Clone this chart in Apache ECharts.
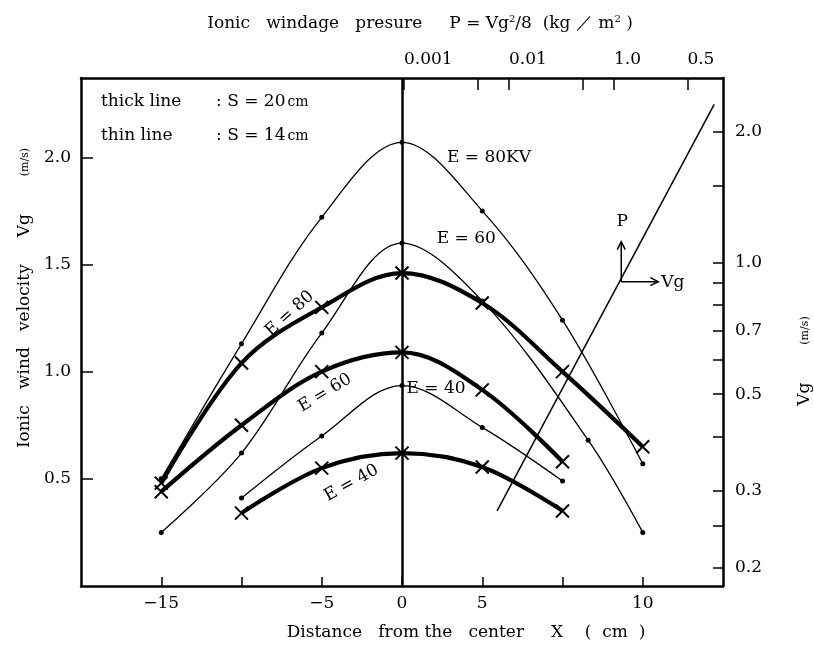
<!DOCTYPE html>
<html>
<head>
<meta charset="utf-8">
<script src="https://cdn.jsdelivr.net/npm/echarts@6/dist/echarts.min.js"></script>
<style>
  html, body { margin: 0; padding: 0; background: #fff; }
  #chart { width: 814px; height: 646px; }
</style>
</head>
<body>
<div id="chart"></div>
<script>
// x positions of the measuring points (cm along the axis)
const xPos = [-15, -10, -5, 0, 5, 10, 15]

// thick line : S = 20cm  (x marks)
const thick80 = [0.48, 1.04, 1.30, 1.46, 1.32, 1.00, 0.65]
const thick60 = [0.44, 0.75, 1.00, 1.09, 0.915, 0.58, null]
const thick40 = [null, 0.34, 0.55, 0.62, 0.555, 0.35, null]

// thin line : S = 14cm  (dots)
const thin80 = [0.50, 1.13, 1.72, 2.07, 1.75, 1.24, 0.57]
const thin60X = [-15, -10, -5, 0, 5, 11.6, 15]
const thin60 = [0.25, 0.62, 1.18, 1.60, 1.33, 0.68, 0.25]
const thin40 = [null, 0.41, 0.70, 0.935, 0.74, 0.49, null]

// P - Vg reference line (top axis P, right axis Vg)
const pvLineP = [0.0077, 0.90]
const pvLineVg = [0.27, 2.31]

// axis ticks and labels
const xTicks = [-15, -10, -5, 0, 5, 10, 15]
const xLabelPos = [-15, -5, 0, 5, 15]
const xLabelText = ['−15', '−5', '0', '5', '10']
const yTicks = [0.5, 1.0, 1.5, 2.0]
const vgTicks = [0.2, 0.25, 0.3, 0.4, 0.5, 0.6, 0.7, 0.8, 0.9, 1.0, 1.5, 2.0]
const vgLabels = [0.2, 0.3, 0.5, 0.7, 1.0, 2.0]
const pTicks = [0.001, 0.005, 0.01, 0.05, 0.1, 0.5]
const pLabelPos = [0.001, 0.01, 0.1, 0.5]
const pLabelText = ['0.001', '0.01', '1.0', '0.5']

const FONT = 'DejaVu Serif'
const FS = 17
const lg = v => Math.log10(v)
const xMark = 'path://M0 0L10 10M10 0L0 10'

function pairs (xs, ys) {
  return xs.map((x, i) => [x, ys[i]]).filter(p => p[1] != null)
}
function pick (pos, text, v) {
  let i = pos.findIndex(p => Math.abs(p - v) < 1e-6)
  return i < 0 ? '' : text[i]
}

let axisLine = { show: true, onZero: false, lineStyle: { color: '#000', width: 2.5 } }
let labelStyle = { color: '#000', fontFamily: FONT, fontSize: FS }

function thick (name, ys) {
  return {
    name: name, type: 'line', data: pairs(xPos, ys), smooth: 0.35,
    symbol: xMark, symbolSize: 13,
    lineStyle: { color: '#000', width: 4.2 },
    itemStyle: { color: '#000', borderColor: '#000', borderWidth: 2 },
    z: 3
  }
}
function thin (name, xs, ys) {
  return {
    name: name, type: 'line', data: pairs(xs, ys), smooth: 0.35,
    symbol: 'circle', symbolSize: 5,
    lineStyle: { color: '#000', width: 1.3 },
    itemStyle: { color: '#000' },
    z: 2
  }
}

let option = {
  animation: false,
  backgroundColor: '#fff',
  grid: { left: 81, right: 91, top: 78, bottom: 60, outerBoundsMode: 'none' },
  title: {
    text: 'Ionic   windage   presure     P = Vg{sup|2}/8  (kg ／ m{sup|2} )',
    left: 415, top: 9, textAlign: 'center',
    textStyle: {
      color: '#000', fontFamily: FONT, fontSize: FS, fontWeight: 'normal',
      rich: { sup: { fontSize: 10, verticalAlign: 'top', padding: [0, 0, 10, 0], fontFamily: FONT } }
    }
  },
  xAxis: [{
    type: 'value', position: 'bottom', min: -20, max: 20,
    axisLine: axisLine,
    axisTick: { inside: true, length: 9, customValues: xTicks, lineStyle: { color: '#000', width: 1.5 } },
    axisLabel: Object.assign({ margin: 9, customValues: xLabelPos,
      formatter: v => pick(xLabelPos, xLabelText, v) }, labelStyle),
    splitLine: { show: false },
    name: 'Distance   from the   center     X    (  cm  )',
    nameLocation: 'middle', nameGap: 38,
    nameTextStyle: { color: '#000', fontFamily: FONT, fontSize: FS, padding: [0, 0, 0, 128] }
  }, {
    type: 'value', position: 'top', min: -6.076, max: 0.038,
    axisLine: axisLine,
    axisTick: { inside: true, length: 12, customValues: pTicks.map(lg), lineStyle: { color: '#000', width: 1.5 } },
    axisLabel: Object.assign({ margin: 10, align: 'left', customValues: pLabelPos.map(lg),
      formatter: v => pick(pLabelPos.map(lg), pLabelText, v) }, labelStyle),
    splitLine: { show: false }
  }],
  yAxis: [{
    type: 'value', position: 'left', min: 0, max: 2.37,
    axisLine: axisLine,
    axisTick: { inside: true, length: 12, customValues: yTicks, lineStyle: { color: '#000', width: 1.5 } },
    axisLabel: Object.assign({ margin: 10, customValues: yTicks, formatter: v => v.toFixed(1) }, labelStyle),
    splitLine: { show: false }
  }, {
    type: 'value', position: 'right', min: -0.741, max: 0.424,
    axisLine: axisLine,
    axisTick: { inside: true, length: 10, customValues: vgTicks.map(lg), lineStyle: { color: '#000', width: 1.5 } },
    axisLabel: Object.assign({ margin: 12, customValues: vgLabels.map(lg),
      formatter: v => Math.pow(10, v).toFixed(1) }, labelStyle),
    splitLine: { show: false }
  }],
  series: [
    Object.assign(thin('thin E=80', xPos, thin80), {
      markLine: {
        silent: true, symbol: ['none', 'none'], label: { show: false },
        lineStyle: { color: '#000', width: 2.5, type: 'solid' },
        data: [{ xAxis: 0 }]
      }
    }),
    thin('thin E=60', thin60X, thin60),
    thin('thin E=40', xPos, thin40),
    thick('thick E=80', thick80),
    thick('thick E=60', thick60),
    thick('thick E=40', thick40),
    {
      name: 'P-Vg', type: 'line', xAxisIndex: 1, yAxisIndex: 1,
      data: pvLineP.map((p, i) => [lg(p), lg(pvLineVg[i])]),
      symbol: 'none', lineStyle: { color: '#000', width: 1.5 }
    }
  ]
}

const chart = echarts.init(document.getElementById('chart'))
chart.setOption(option)

// annotations, anchored in data coordinates of the bottom/left axes
const notes = [
  { text: 'E = 80KV', at: [2.8, 2.0], rot: 0, align: 'left' },
  { text: 'E = 60', at: [2.16, 1.62], rot: 0, align: 'left' },
  { text: 'E = 40', at: [0.28, 0.92], rot: 0, align: 'left' },
  { text: 'E = 80', at: [-7.0, 1.27], rot: 42, align: 'center' },
  { text: 'E = 60', at: [-4.8, 0.9], rot: 31, align: 'center' },
  { text: 'E = 40', at: [-3.15, 0.48], rot: 29, align: 'center' },
  { text: 'P', at: [13.72, 1.70], rot: 0, align: 'center' },
  { text: 'Vg', at: [16.15, 1.415], rot: 0, align: 'left' }
]
const px = p => chart.convertToPixel({ xAxisIndex: 0, yAxisIndex: 0 }, p)
let graphic = notes.map(n => {
  let p = px(n.at)
  return {
    type: 'text', x: p[0], y: p[1], rotation: n.rot * Math.PI / 180,
    style: { text: n.text, fill: '#000', fontFamily: FONT, fontSize: FS,
      textAlign: n.align, textVerticalAlign: 'middle' }
  }
})

// P / Vg arrows
let o = px([13.66, 1.42])
graphic.push(
  { type: 'polyline', shape: { points: [[o[0], o[1]], [o[0], o[1] - 40]] }, style: { stroke: '#000', lineWidth: 1.5 } },
  { type: 'polyline', shape: { points: [[o[0] - 4, o[1] - 32], [o[0], o[1] - 40], [o[0] + 4, o[1] - 32]] }, style: { stroke: '#000', lineWidth: 1.5, fill: null } },
  { type: 'polyline', shape: { points: [[o[0], o[1]], [o[0] + 37, o[1]]] }, style: { stroke: '#000', lineWidth: 1.5 } },
  { type: 'polyline', shape: { points: [[o[0] + 29, o[1] - 4], [o[0] + 37, o[1]], [o[0] + 29, o[1] + 4]] }, style: { stroke: '#000', lineWidth: 1.5, fill: null } }
)

// legend text
const legendRows = [['thick line', ': S = 20', 102], ['thin line', ': S = 14', 136]]
legendRows.forEach(r => {
  graphic.push({ type: 'text', x: 101, y: r[2],
    style: { text: r[0], fill: '#000', fontFamily: FONT, fontSize: FS, textVerticalAlign: 'middle' } })
  graphic.push({ type: 'text', x: 216, y: r[2],
    style: { text: r[1] + '{c|cm}', fill: '#000', fontFamily: FONT, fontSize: FS, textVerticalAlign: 'middle',
      rich: { c: { fontSize: 14, fontFamily: FONT, padding: [0, 0, 0, 2] } } } })
})

// rotated axis titles
graphic.push({ type: 'text', x: 25, y: 298, rotation: Math.PI / 2,
  style: { text: 'Ionic   wind   velocity     Vg       {s|(m/s)}', fill: '#000', fontFamily: FONT, fontSize: FS,
    textAlign: 'center', textVerticalAlign: 'middle', rich: { s: { fontSize: 11, fontFamily: FONT } } } })
graphic.push({ type: 'text', x: 805, y: 361, rotation: Math.PI / 2,
  style: { text: 'Vg       {s|(m/s)}', fill: '#000', fontFamily: FONT, fontSize: FS,
    textAlign: 'center', textVerticalAlign: 'middle', rich: { s: { fontSize: 11, fontFamily: FONT } } } })

chart.setOption({ graphic: graphic })
</script>
</body>
</html>
